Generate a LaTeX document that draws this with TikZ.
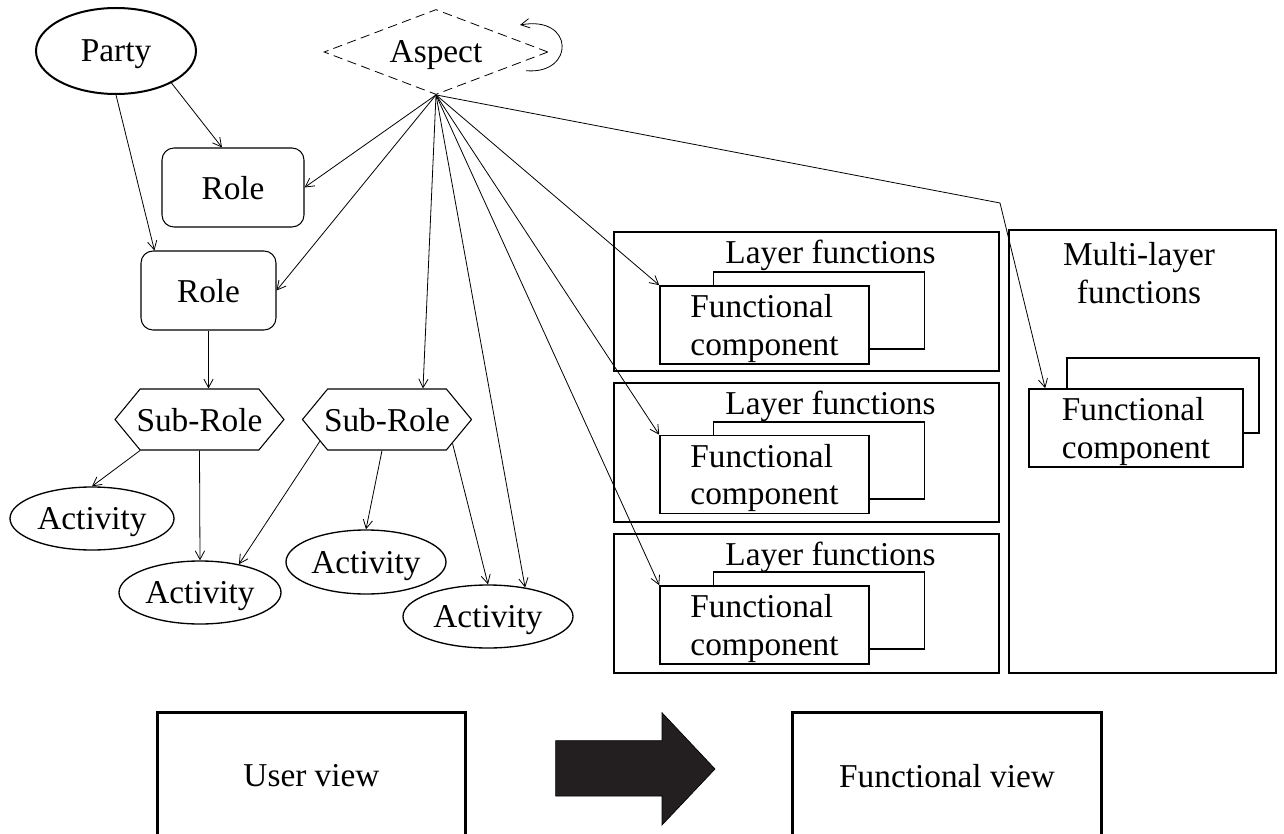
\documentclass[tikz,border=0pt]{standalone}
\usepackage{fontspec}
\setmainfont{Liberation Serif}
\usetikzlibrary{arrows.meta,shapes.geometric,shapes.symbols}
\definecolor{arrowfill}{RGB}{35,31,32}

\begin{document}
\begin{tikzpicture}[x=0.75pt,y=-0.75pt,
  every node/.style={font=\fontsize{25}{28}\selectfont,inner sep=0pt,text depth=0pt,align=center},
  ell/.style={draw,ellipse,line width=1pt},
  role/.style={draw,rounded corners=9pt,minimum height=59.25pt,line width=0.8pt},
  sub/.style={draw,signal,signal to=west and east,signal pointer angle=101,inner xsep=-3pt,
    minimum width=126.75pt,minimum height=45.75pt,line width=0.8pt},
  layer/.style={draw,line width=1.5pt,minimum width=288.75pt,minimum height=104.25pt},
  comp/.style={draw,fill=white,align=left,line width=1.2pt,minimum width=156.75pt,minimum height=58.5pt},
  compback/.style={draw,line width=1.2pt,minimum width=158.25pt,minimum height=57.75pt},
  view/.style={draw,line width=2.25pt,minimum width=231.5pt,minimum height=94pt},
  arr/.style={-{Straight Barb[length=6.5pt,width=7pt]},line width=0.6pt}
]
\useasboundingbox (0,0) rectangle (1284,834);

% user view side
\node[ell,line width=1.5pt,minimum width=120pt,minimum height=64.5pt] (party) at (116,51) {Party};
\node[draw,dashed,dash pattern=on 7pt off 4pt,diamond,aspect=2.6,minimum width=168pt,
  minimum height=63.75pt,line width=0.6pt] (aspect) at (436,52) {Aspect};
\node[role,minimum width=106.5pt] (roleA) at (233,187.5) {Role};
\node[role,minimum width=101.25pt] (roleB) at (208.5,290.5) {Role};
\node[sub] (subA) at (199.5,419.5) {Sub-Role};
\node[sub] (subB) at (387,419.5) {Sub-Role};
\node[ell,minimum width=123pt,minimum height=47.25pt] (actA) at (92,518.5) {Activity};
\node[ell,minimum width=121.5pt,minimum height=47.25pt] (actB) at (200,592.5) {Activity};
\node[ell,minimum width=120pt,minimum height=48pt] (actC) at (366,562) {Activity};
\node[ell,minimum width=127.5pt,minimum height=47.25pt] (actD) at (488,616.5) {Activity};

% functional view side
\node[layer] (layA) at (806.5,301.5) {};
\node[layer] (layB) at (806.5,452) {};
\node[layer] (layC) at (806.5,603) {};
\node at ([xshift=18pt,yshift=-15.75pt]layA.north) {Layer functions};
\node at ([xshift=18pt,yshift=-15.75pt]layB.north) {Layer functions};
\node at ([xshift=18pt,yshift=-15.75pt]layC.north) {Layer functions};
\node[compback] (fcAb) at (819,310.2) {};
\node[comp] (fcA) at (764.5,325) {Functional\\component};
\node[compback] (fcBb) at (819,460.2) {};
\node[comp] (fcB) at (764.5,474.5) {Functional\\component};
\node[compback] (fcCb) at (819,610.2) {};
\node[comp] (fcC) at (764.5,625) {Functional\\component};

\node[draw,line width=1.2pt,minimum width=200.25pt,minimum height=332.25pt] (multi) at (1142.5,451.5) {};
\node at (1139,273) {Multi-layer\\functions};
\node[compback,minimum width=144pt,minimum height=56.5pt] (fcMb) at (1163,395.4) {};
\node[comp,minimum width=160.5pt] (fcM) at (1136,428) {Functional\\component};

% views
\node[view] (userview) at (311.5,775.5) {User view};
\node[view] (funcview) at (947,775.5) {Functional view};
\filldraw[fill=arrowfill,draw=black,line width=0.5pt] (555.6,740.7) -- (662,740.7) -- (662,712.7)
  -- (715,769) -- (662,825) -- (662,796) -- (555.6,796) -- cycle;

% connectors
\draw[arr] (party.-30) -- ([xshift=-8.25pt]roleA.north);
\draw[arr] (party.south) -- ([xshift=10.5pt]roleB.north west);
\draw[arr] (aspect.south) -- (roleA.east);
\draw[arr] (aspect.south) -- (roleB.east);
\draw[arr] (aspect.south) -- ([xshift=27pt]subB.north);
\draw[arr] (aspect.south) -- (actD.38);
\draw[arr] (aspect.south) -- (fcA.north west);
\draw[arr] (aspect.south) -- (fcB.north west);
\draw[arr] (aspect.south) -- (fcC.north west);
\coordinate (bend) at (1000,203);
\draw[arr] (aspect.south) -- (bend) -- ([xshift=12.75pt]fcM.north west);
\coordinate (loopS) at (526,70.7);
\coordinate (loopE) at (520,25);
\draw[arr] (loopS) .. controls (575,75) and (575,15) .. (loopE);
\draw[arr] (roleB.south) -- (roleB.south |- subA.north);
\draw[arr] ([xshift=-44.6pt]subA.south) -- (actA.north);
\draw[arr] (subA.south) -- (actB.north);
\draw[arr] (subB.198) -- (actB.36);
\draw[arr] ([xshift=-3.75pt]subB.south) -- (actC.north);
\draw[arr] (subB.-20) -- (actD.north);
\end{tikzpicture}
\end{document}
